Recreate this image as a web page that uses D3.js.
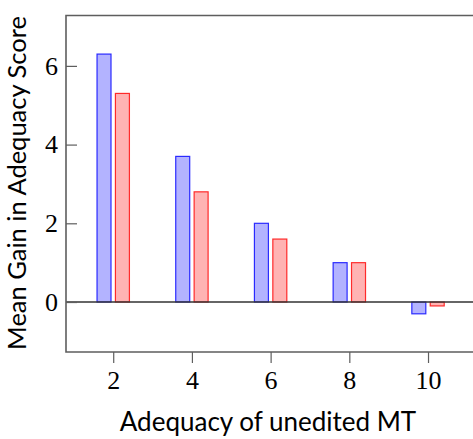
<!DOCTYPE html>
<html>
<head>
<meta charset="utf-8">
<script src="https://cdn.jsdelivr.net/npm/d3@7"></script>
<style>
  body { margin: 0; background: #fff; }
  svg { display: block; }
</style>
</head>
<body>
<svg id="chart" width="473" height="439"></svg>
<script>
// adequacy of unedited MT (x) and mean gain per series
const categories = [2, 4, 6, 8, 10];
const seriesA = [6.3, 3.7, 2.0, 1.0, -0.3];
const seriesB = [5.3, 2.8, 1.6, 1.0, -0.1];
const xTicks = [2, 4, 6, 8, 10];
const yTicks = [0, 2, 4, 6];

const svg = d3.select('#chart');
const W = 473, H = 439;
const margin = { left: 66, top: 15.5, right: -10, bottom: 87 };

const x = d3.scaleLinear()
  .domain([0.8, 11.3])
  .range([margin.left, margin.left + 10.5 * 39.35]);
const y = d3.scaleLinear()
  .domain([-1.27, 7.28])
  .range([H - margin.bottom, margin.top]);

const barW = 14, offset = 9.2;

const frameColor = '#5e5e5e';

// bars
const series = [
  { vals: seriesA, dx: -offset, fill: '#b3b3ff', stroke: '#0000ff' },
  { vals: seriesB, dx: offset, fill: '#ffb3b3', stroke: '#ff0000' }
];
series.forEach(s => {
  svg.append('g')
    .selectAll('rect')
    .data(categories.map((c, i) => [c, s.vals[i]]))
    .enter()
    .append('rect')
      .attr('x', d => x(d[0]) + s.dx - barW / 2)
      .attr('width', barW)
      .attr('y', d => Math.min(y(d[1]), y(0)))
      .attr('height', d => Math.abs(y(d[1]) - y(0)))
      .attr('fill', s.fill)
      .attr('stroke', s.stroke)
      .attr('stroke-opacity', 0.8)
      .attr('stroke-width', 1.2);
});

// zero line
svg.append('line')
  .attr('x1', x.range()[0]).attr('x2', W + 5)
  .attr('y1', y(0)).attr('y2', y(0))
  .attr('stroke', '#333').attr('stroke-width', 1.3);

// frame (right side is off-canvas)
svg.append('path')
  .attr('d', `M${W + 5},${y.range()[1]} H${x.range()[0]} V${y.range()[0]} H${W + 5}`)
  .attr('fill', 'none')
  .attr('stroke', frameColor)
  .attr('stroke-width', 1.6);

// y axis: ticks inward
const yAxis = svg.append('g')
  .attr('transform', `translate(${x.range()[0]},0)`)
  .call(d3.axisRight(y).tickValues(yTicks).tickSize(11));
yAxis.select('.domain').remove();
yAxis.selectAll('line').attr('stroke', frameColor).attr('stroke-width', 1.2);
yAxis.selectAll('text')
  .attr('text-anchor', 'end')
  .attr('x', -8)
  .style('font-family', '"Liberation Serif", "DejaVu Serif", serif')
  .style('font-size', '26px')
  .attr('fill', '#000');

// x axis: ticks outward
const xAxis = svg.append('g')
  .attr('transform', `translate(0,${y.range()[0]})`)
  .call(d3.axisBottom(x).tickValues(xTicks).tickSize(11).tickPadding(8));
xAxis.select('.domain').remove();
xAxis.selectAll('line').attr('stroke', frameColor).attr('stroke-width', 1.2);
xAxis.selectAll('text')
  .style('font-family', '"Liberation Serif", "DejaVu Serif", serif')
  .style('font-size', '26px')
  .attr('fill', '#000');

// axis titles
svg.append('text')
  .attr('x', 268).attr('y', 431)
  .attr('text-anchor', 'middle')
  .style('font-family', 'Lato, "Open Sans", sans-serif')
  .style('font-size', '26px')
  .text('Adequacy of unedited MT');

svg.append('text')
  .attr('transform', 'translate(25.5,183) rotate(-90)')
  .attr('text-anchor', 'middle')
  .style('font-family', 'Lato, "Open Sans", sans-serif')
  .style('font-size', '25.5px')
  .text('Mean Gain in Adequacy Score');
</script>
</body>
</html>
